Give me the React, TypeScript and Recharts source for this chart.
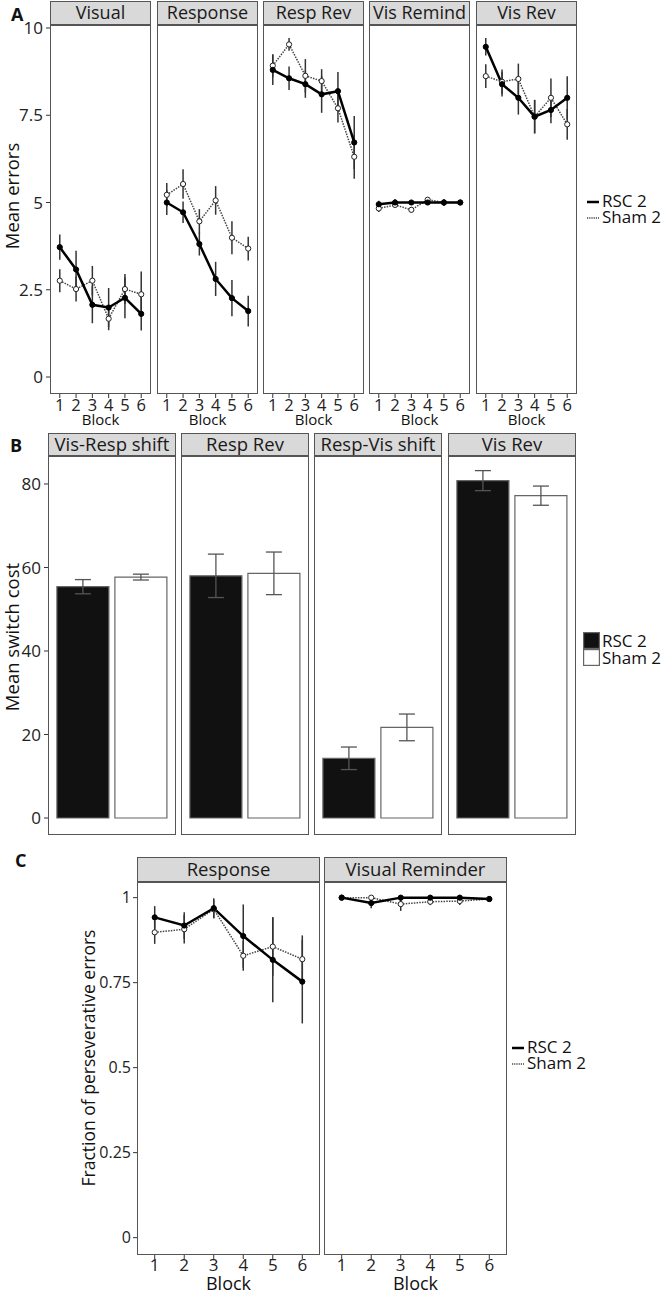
import React from 'react';
import { LineChart, Line, XAxis, YAxis, ErrorBar, BarChart, Bar, Cell } from 'recharts';

const FONT = '"Open Sans", "Noto Sans", "DejaVu Sans", sans-serif';

// ---------- shared ----------
const blocks = [1, 2, 3, 4, 5, 6];
const groups = ['RSC 2', 'Sham 2'];

// ---------- Panel A: Mean errors ----------
const aFacets = ['Visual', 'Response', 'Resp Rev', 'Vis Remind', 'Vis Rev'];
const aTicks = [0, 2.5, 5, 7.5, 10];

const aRscVisual = [3.72, 3.08, 2.07, 1.99, 2.27, 1.81];
const aRscVisualErr = [0.36, 0.54, 0.53, 0.56, 0.59, 0.48];
const aShamVisual = [2.76, 2.52, 2.76, 1.67, 2.52, 2.37];
const aShamVisualErr = [0.33, 0.36, 0.42, 0.33, 0.43, 0.65];

const aRscResponse = [5.0, 4.72, 3.81, 2.81, 2.26, 1.89];
const aRscResponseErr = [0.36, 0.31, 0.33, 0.49, 0.52, 0.44];
const aShamResponse = [5.22, 5.53, 4.46, 5.06, 3.99, 3.68];
const aShamResponseErr = [0.34, 0.42, 0.35, 0.41, 0.47, 0.34];

const aRscRespRev = [8.8, 8.56, 8.39, 8.1, 8.19, 6.72];
const aRscRespRevErr = [0.43, 0.34, 0.39, 0.53, 0.55, 0.76];
const aShamRespRev = [8.92, 9.53, 8.63, 8.48, 7.7, 6.31];
const aShamRespRevErr = [0.33, 0.18, 0.48, 0.34, 0.41, 0.63];

const aRscVisRemind = [4.95, 5.0, 5.0, 5.0, 5.0, 5.0];
const aRscVisRemindErr = [0.1, 0.1, 0.02, 0.02, 0.1, 0.02];
const aShamVisRemind = [4.83, 4.93, 4.79, 5.08, 5.0, 5.0];
const aShamVisRemindErr = [0.1, 0.05, 0.08, 0.06, 0.03, 0.02];

const aRscVisRev = [9.46, 8.39, 8.0, 7.46, 7.65, 8.0];
const aRscVisRevErr = [0.25, 0.35, 0.48, 0.48, 0.38, 0.62];
const aShamVisRev = [8.62, 8.46, 8.54, 7.46, 8.0, 7.24];
const aShamVisRevErr = [0.34, 0.35, 0.44, 0.48, 0.55, 0.44];

// ---------- Panel B: Mean switch cost ----------
const bFacets = ['Vis-Resp shift', 'Resp Rev', 'Resp-Vis shift', 'Vis Rev'];
const bTicks = [0, 20, 40, 60, 80];
const bRsc = [55.4, 58.0, 14.3, 80.8];
const bRscErr = [1.7, 5.2, 2.7, 2.4];
const bSham = [57.7, 58.6, 21.7, 77.2];
const bShamErr = [0.7, 5.1, 3.2, 2.3];

// ---------- Panel C: Fraction of perseverative errors ----------
const cFacets = ['Response', 'Visual Reminder'];
const cTicks = [0, 0.25, 0.5, 0.75, 1];

const cRscResponse = [0.942, 0.918, 0.969, 0.887, 0.817, 0.753];
const cRscResponseErr = [0.033, 0.039, 0.029, 0.093, 0.125, 0.123];
const cShamResponse = [0.898, 0.907, 0.966, 0.829, 0.856, 0.819];
const cShamResponseErr = [0.034, 0.042, 0.027, 0.044, 0.086, 0.07];

const cRscVisRem = [1.0, 0.984, 1.0, 1.0, 1.0, 0.996];
const cRscVisRemErr = [0, 0.015, 0, 0, 0, 0];
const cShamVisRem = [1.0, 1.0, 0.981, 0.988, 0.99, 0.996];
const cShamVisRemErr = [0, 0, 0.02, 0.01, 0.012, 0];

type Row = { block: number; rsc: number; rscErr: number; sham: number; shamErr: number };
const makeRows = (rsc: number[], rscErr: number[], sham: number[], shamErr: number[]): Row[] =>
  blocks.map((b, i) => ({ block: b, rsc: rsc[i], rscErr: rscErr[i], sham: sham[i], shamErr: shamErr[i] }));

const aRows = [
  makeRows(aRscVisual, aRscVisualErr, aShamVisual, aShamVisualErr),
  makeRows(aRscResponse, aRscResponseErr, aShamResponse, aShamResponseErr),
  makeRows(aRscRespRev, aRscRespRevErr, aShamRespRev, aShamRespRevErr),
  makeRows(aRscVisRemind, aRscVisRemindErr, aShamVisRemind, aShamVisRemindErr),
  makeRows(aRscVisRev, aRscVisRevErr, aShamVisRev, aShamVisRevErr),
];
const cRows = [
  makeRows(cRscResponse, cRscResponseErr, cShamResponse, cShamResponseErr),
  makeRows(cRscVisRem, cRscVisRemErr, cShamVisRem, cShamVisRemErr),
];

const BORDER = '#555';
const PAD = 12;

function Strip({ left, top, w, h, title, fontSize }: any) {
  return (
    <div
      style={{
        position: 'absolute', left, top, width: w, height: h, boxSizing: 'border-box',
        background: '#d9d9d9', border: `1.3px solid ${BORDER}`, fontFamily: FONT, fontSize,
        lineHeight: `${h - 3}px`, textAlign: 'center', color: '#1a1a1a', whiteSpace: 'nowrap',
      }}
    >
      {title}
    </div>
  );
}

function Frame({ left, top, w, h }: any) {
  return (
    <div
      style={{
        position: 'absolute', left, top, width: w, height: h, boxSizing: 'border-box',
        border: `1.3px solid ${BORDER}`, pointerEvents: 'none',
      }}
    />
  );
}

function LineFacet(p: any) {
  const { left, top, w, h, yW, bottomH, blockOffset, xTickMargin, title, rows, yDomain, yTicks, showY, tickFont, yTickFont, yTickMargin, blockFont, stripH, stripFont, cStyle } = p;
  return (
    <>
      <Strip left={left} top={top - stripH} w={w} h={stripH} title={title} fontSize={stripFont} />
      <div style={{ position: 'absolute', left: left - yW, top: top - PAD }}>
        <LineChart width={w + yW} height={h + bottomH + PAD} data={rows} margin={{ top: PAD, right: 0, bottom: 0, left: 0 }}>
          <XAxis
            type="number" dataKey="block" domain={[0.4, 6.6]} ticks={blocks} interval={0} allowDataOverflow
            height={bottomH} axisLine={false} tickLine={{ stroke: '#333' }} tickSize={4} tickMargin={xTickMargin}
            tick={{ fontSize: tickFont, fill: '#222', fontFamily: FONT }}
            label={{ value: 'Block', position: 'insideBottom', offset: blockOffset, fontSize: blockFont, fill: '#111', fontFamily: FONT }}
          />
          <YAxis
            type="number" domain={yDomain} ticks={yTicks} interval={0} allowDataOverflow width={yW} hide={!showY}
            axisLine={false} tickLine={{ stroke: '#333' }} tickSize={4} tickMargin={yTickMargin}
            tick={{ fontSize: yTickFont, fill: '#222', fontFamily: FONT }}
          />
          <Line
            dataKey="sham" isAnimationActive={false} stroke="#444" strokeWidth={cStyle ? 2 : 1.5} strokeDasharray="1.5 1.2"
            dot={{ r: cStyle ? 2.2 : 2.6, fill: '#fff', stroke: '#222', strokeWidth: 1, strokeDasharray: '' }}
          >
            <ErrorBar dataKey="shamErr" direction="y" width={0} stroke={cStyle ? '#555' : '#333'} strokeWidth={cStyle ? 2 : 1.5} />
          </Line>
          <Line
            dataKey="rsc" isAnimationActive={false} stroke="#000" strokeWidth={cStyle ? 2.2 : 2.5}
            dot={{ r: cStyle ? 1.8 : 2.6, fill: '#000', stroke: '#000', strokeWidth: 1 }}
          >
            <ErrorBar dataKey="rscErr" direction="y" width={0} stroke={cStyle ? '#555' : '#333'} strokeWidth={cStyle ? 2 : 1.5} />
          </Line>
        </LineChart>
      </div>
      <Frame left={left} top={top} w={w} h={h} />
    </>
  );
}

function BarFacet(p: any) {
  const { left, top, w, h, yW, title, idx, showY } = p;
  const rows = [
    { group: groups[0], value: bRsc[idx], err: bRscErr[idx] },
    { group: groups[1], value: bSham[idx], err: bShamErr[idx] },
  ];
  return (
    <>
      <Strip left={left} top={top - 23} w={w} h={23} title={title} fontSize={18.5} />
      <div style={{ position: 'absolute', left: left - yW, top: top - PAD }}>
        <BarChart width={w + yW} height={h + PAD} data={rows} margin={{ top: PAD, right: 0, bottom: 0, left: 0 }} barCategoryGap="5%">
          <XAxis type="category" dataKey="group" hide padding={{ left: 6, right: 6 }} />
          <YAxis
            type="number" domain={[-4.07, 86.7]} ticks={bTicks} interval={0} allowDataOverflow width={yW} hide={!showY}
            axisLine={false} tickLine={{ stroke: '#333' }} tickSize={4} tickMargin={3}
            tick={{ fontSize: 17, fill: '#222', fontFamily: FONT }}
          />
          <Bar dataKey="value" isAnimationActive={false}>
            {rows.map((r, i) => (
              <Cell key={r.group} fill={i === 0 ? '#111' : '#fff'} stroke="#666" strokeWidth={1.2} />
            ))}
            <ErrorBar dataKey="err" direction="y" width={8} stroke="#555" strokeWidth={1.3} />
          </Bar>
        </BarChart>
      </div>
      <Frame left={left} top={top} w={w} h={h} />
    </>
  );
}

function VTitle({ cx, cy, text, size }: any) {
  return (
    <div
      style={{
        position: 'absolute', left: cx, top: cy, transform: 'translate(-50%, -50%) rotate(180deg)',
        writingMode: 'vertical-rl', fontFamily: FONT, fontSize: size, color: '#111', whiteSpace: 'nowrap', lineHeight: 1,
      }}
    >
      {text}
    </div>
  );
}

function Letter({ x, y, t }: any) {
  return (
    <div style={{ position: 'absolute', left: x, top: y, fontFamily: FONT, fontWeight: 700, fontSize: 18, lineHeight: 1, color: '#111' }}>{t}</div>
  );
}

function LineLegend({ x, y }: any) {
  return (
    <div style={{ position: 'absolute', left: x, top: y, fontFamily: FONT, fontSize: 17, color: '#111', lineHeight: '16px' }}>
      {groups.map((g, i) => (
        <div key={g} style={{ display: 'flex', alignItems: 'center', height: 16 }}>
          <svg width={15} height={16} style={{ display: 'block' }}>
            {i === 0 ? (
              <line x1={0} x2={12} y1={9} y2={9} stroke="#000" strokeWidth={2.5} />
            ) : (
              <line x1={0} x2={12} y1={9} y2={9} stroke="#444" strokeWidth={1.6} strokeDasharray="1.2 1" />
            )}
          </svg>
          <span style={{ lineHeight: '16px' }}>{g}</span>
        </div>
      ))}
    </div>
  );
}

function BarLegend({ x, y }: any) {
  return (
    <div style={{ position: 'absolute', left: x, top: y, fontFamily: FONT, fontSize: 17, color: '#111', lineHeight: '17px' }}>
      {groups.map((g, i) => (
        <div key={g} style={{ display: 'flex', alignItems: 'center', height: 17 }}>
          <svg width={19} height={17} style={{ display: 'block' }}>
            <rect x={0.6} y={0.6} width={15.8} height={15.8} fill={i === 0 ? '#111' : '#fff'} stroke="#666" strokeWidth={1.2} />
          </svg>
          <span style={{ lineHeight: '17px' }}>{g}</span>
        </div>
      ))}
    </div>
  );
}

export default function App() {
  const aX = [50, 157, 263, 369, 476];
  const bX = [48, 181, 314, 448];
  const cX = [137, 324];
  return (
    <div style={{ position: 'absolute', left: 0, top: 0, width: 666, height: 1292, background: '#fff', overflow: 'hidden' }}>
      <Letter x={11} y={5} t="A" />
      <Letter x={10} y={436} t="B" />
      <Letter x={15} y={851} t="C" />

      {aFacets.map((t, i) => (
        <LineFacet
          key={t} left={aX[i]} top={25} w={101} h={369} yW={i === 0 ? 50 : 0} bottomH={34} blockOffset={3} xTickMargin={1}
          title={t} rows={aRows[i]} yDomain={[-0.487, 10.086]} yTicks={aTicks} showY={i === 0} yTickMargin={3}
          tickFont={16.5} yTickFont={17} blockFont={15} stripH={24} stripFont={18}
        />
      ))}
      <VTitle cx={11.5} cy={196} text="Mean errors" size={18.5} />
      <LineLegend x={587} y={193} />

      {bFacets.map((t, i) => (
        <BarFacet key={t} left={bX[i]} top={456} w={128} h={379} yW={i === 0 ? 48 : 0} title={t} idx={i} showY={i === 0} />
      ))}
      <VTitle cx={11.5} cy={637} text="Mean switch cost" size={18.5} />
      <BarLegend x={583} y={632} />

      {cFacets.map((t, i) => (
        <LineFacet
          key={t} left={cX[i]} top={882} w={183} h={373} yW={i === 0 ? 39 : 0} bottomH={37} blockOffset={2} xTickMargin={0}
          title={t} rows={cRows[i]} yDomain={[-0.051, 1.046]} yTicks={cTicks} showY={i === 0} yTickMargin={2}
          tickFont={17} yTickFont={16} blockFont={18} stripH={25} stripFont={18.5}
        />
      ))}
      <VTitle cx={89} cy={1058} text="Fraction of perseverative errors" size={17.5} />
      <LineLegend x={512} y={1039} />
    </div>
  );
}
